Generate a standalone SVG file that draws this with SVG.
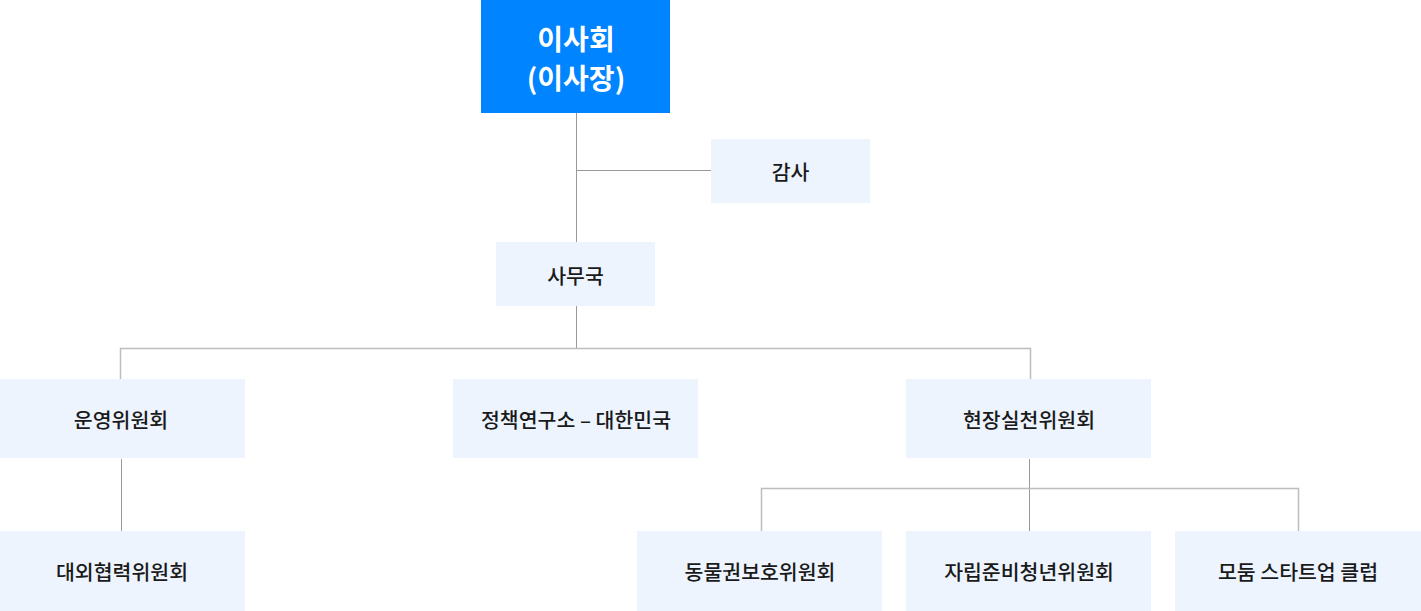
<svg xmlns="http://www.w3.org/2000/svg" width="1421" height="611" viewBox="0 0 1421 611">
<style>
.box{fill:#EDF4FE}
.t{font-family:"Noto Sans CJK KR","Noto Sans",sans-serif;font-size:20.5px;font-weight:500;fill:#1a1a1a;text-anchor:middle;dominant-baseline:central}
.tw{font-family:"Noto Sans CJK KR","Noto Sans",sans-serif;font-size:28px;font-weight:bold;fill:#fff;text-anchor:middle;dominant-baseline:central}
.l1{stroke:#999;stroke-width:1;fill:none}
.l2{stroke:#bdbdbd;stroke-width:1.5;fill:none}
</style>
<rect width="1421" height="611" fill="#fff"/>
<g id="connectors">
<path class="l1" d="M576.5 113V242M576.5 170.5H711M576.5 306V348"/>
<path class="l2" d="M120.5 379V348.5H1030.5V379"/>
<path class="l1" d="M121.5 459V531M1029.5 459V531"/>
<path class="l2" d="M761.5 531V488.5H1298.5V531"/>
</g>
<g id="n-board"><rect x="481" y="0" width="189" height="113" fill="#0084FF"/><text class="tw" x="576" y="38">이사회</text><text class="tw" x="576" y="77">(이사장)</text></g>
<g id="n-audit"><rect class="box" x="711" y="139" width="159" height="64"/><text class="t" x="790.5" y="171">감사</text></g>
<g id="n-office"><rect class="box" x="496" y="242" width="159" height="64"/><text class="t" x="575.5" y="275">사무국</text></g>
<g id="n-op"><rect class="box" x="0" y="379" width="245" height="79"/><text class="t" x="121" y="419">운영위원회</text></g>
<g id="n-policy"><rect class="box" x="453" y="379" width="245" height="79"/><text class="t" x="576" y="419">정책연구소 – 대한민국</text></g>
<g id="n-field"><rect class="box" x="906" y="379" width="245" height="79"/><text class="t" x="1029" y="419">현장실천위원회</text></g>
<g id="n-ext"><rect class="box" x="0" y="531" width="245" height="80"/><text class="t" x="122" y="571">대외협력위원회</text></g>
<g id="n-animal"><rect class="box" x="637" y="531" width="245" height="80"/><text class="t" x="760" y="571">동물권보호위원회</text></g>
<g id="n-youth"><rect class="box" x="906" y="531" width="245" height="80"/><text class="t" x="1029" y="571">자립준비청년위원회</text></g>
<g id="n-startup"><rect class="box" x="1175" y="531" width="246" height="80"/><text class="t" x="1298" y="571">모둠 스타트업 클럽</text></g>
</svg>
